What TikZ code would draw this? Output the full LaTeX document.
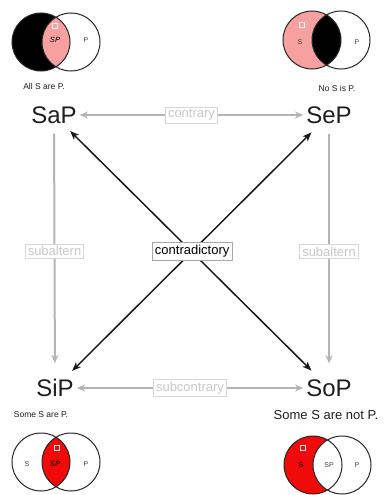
\documentclass[tikz,border=0pt]{standalone}
\usepackage{fontspec}
\setmainfont{Liberation Sans}
\usetikzlibrary{arrows.meta}
\definecolor{relgray}{RGB}{180,180,180}
\definecolor{labgray}{RGB}{200,200,200}
\definecolor{boxgray}{RGB}{215,215,215}
\definecolor{pinkfill}{RGB}{246,160,160}
\definecolor{redfill}{RGB}{240,10,10}
\definecolor{txt}{RGB}{30,30,30}
\tikzset{
  big/.style={font=\fontsize{24}{24}\selectfont, text=txt, inner sep=1pt},
  capt/.style={font=\fontsize{8.5}{9}\selectfont, text=txt, inner sep=0pt},
  captbig/.style={font=\fontsize{13}{13}\selectfont, text=txt, inner sep=0pt},
  vl/.style={font=\fontsize{7}{7}\selectfont, text=black!75, inner sep=0pt},
  vldark/.style={font=\fontsize{7.5}{7.5}\selectfont, text=black, inner sep=0pt},
  rel/.style={draw=relgray, line width=2pt, >={Stealth[length=8pt,width=7pt,inset=2.5pt]}},
  contra/.style={draw=black!90, line width=1.5pt, >={Stealth[length=9pt,width=7pt,inset=2.5pt]}},
  lab/.style={fill=white, draw=boxgray, line width=0.6pt, font=\fontsize{13}{13}\selectfont, text=labgray, inner sep=2.5pt},
  labdark/.style={fill=white, draw=black!35, line width=0.6pt, font=\fontsize{13}{13}\selectfont, text=black, inner sep=2.5pt},
  outline/.style={draw=black!85, line width=1pt},
  sq/.style={draw=white!85!pink, line width=0.5pt, minimum size=5pt, inner sep=0pt}
}
\begin{document}
\begin{tikzpicture}[x=1pt,y=-1pt]
\path[use as bounding box, fill=white] (0,0) rectangle (383,495);

% ---- Top-left: All S are P ----
\fill[black] (41,42) circle[radius=29pt];
\begin{scope}
  \clip (41,42) circle[radius=29pt];
  \fill[pinkfill] (71,42) circle[radius=29pt];
\end{scope}
\draw[outline] (41,42) circle[radius=29pt];
\draw[outline] (71,42) circle[radius=29pt];
\node[vldark] (tlSP) at (55,40) {\itshape SP};
\node[vl] (tlP) at (86,40) {P};
\node[sq] (tlsq) at (55,26) {};
\node[capt] (capA) at (44,86) {All S are P.};

% ---- Top-right: No S is P ----
\fill[pinkfill] (312,40) circle[radius=29pt];
\begin{scope}
  \clip (312,40) circle[radius=29pt];
  \fill[black] (341,40) circle[radius=29pt];
\end{scope}
\draw[outline] (312,40) circle[radius=29pt];
\draw[outline] (341,40) circle[radius=29pt];
\node[vl] (trS) at (300,42) {S};
\node[vl] (trP) at (357,42) {P};
\node[sq] (trsq) at (302,25) {};
\node[capt] (capE) at (337,88) {No S is P.};

% ---- Bottom-left: Some S are P ----
\begin{scope}
  \clip (41,462) circle[radius=29pt];
  \fill[redfill] (71,462) circle[radius=29pt];
\end{scope}
\draw[outline] (41,462) circle[radius=29pt];
\draw[outline] (71,462) circle[radius=29pt];
\node[vl] (blS) at (27,464) {S};
\node[vldark] (blSP) at (55,464) {\itshape SP};
\node[vl] (blP) at (86,464) {P};
\node[sq] (blsq) at (57,448) {};
\node[capt] (capI) at (41,415) {Some S are P.};

% ---- Bottom-right: Some S are not P ----
\fill[redfill] (313,465) circle[radius=29pt];
\begin{scope}
  \clip (313,465) circle[radius=29pt];
  \fill[white] (342,465) circle[radius=29pt];
\end{scope}
\draw[outline] (313,465) circle[radius=29pt];
\draw[outline] (342,465) circle[radius=29pt];
\node[vldark] (brS) at (301,465) {S};
\node[vl] (brSP) at (329,465) {SP};
\node[vl] (brP) at (357,465) {P};
\node[sq] (brsq) at (303,448) {};
\node[captbig] (capO) at (326,415) {Some S are not P.};

% ---- Main labels ----
\node[big] (SaP) at (54,115) {SaP};
\node[big] (SeP) at (329,115) {SeP};
\node[big] (SiP) at (55,388) {SiP};
\node[big] (SoP) at (329,388) {SoP};

% ---- Relations ----
\draw[rel,<->,shorten <=2pt,shorten >=2pt] (SaP) -- node[lab] (lcontrary) {contrary} (SeP);
\draw[rel,<->,shorten <=2pt,shorten >=2pt] (SiP) -- node[lab] (lsubcontrary) {subcontrary} (SoP);
\draw[rel,->,shorten <=9pt,shorten >=15pt] (SaP) -- node[lab] (lsubL) {subaltern} (SiP);
\draw[rel,->,shorten <=9pt,shorten >=15pt] (SeP) -- node[lab] (lsubR) {subaltern} (SoP);

\draw[contra,<->,shorten <=9pt,shorten >=11pt] (SaP) -- (SoP);
\draw[contra,<->,shorten <=11pt,shorten >=10pt] (SeP) -- node[labdark] (lcontra) {contradictory} (SiP);
\end{tikzpicture}
\end{document}
